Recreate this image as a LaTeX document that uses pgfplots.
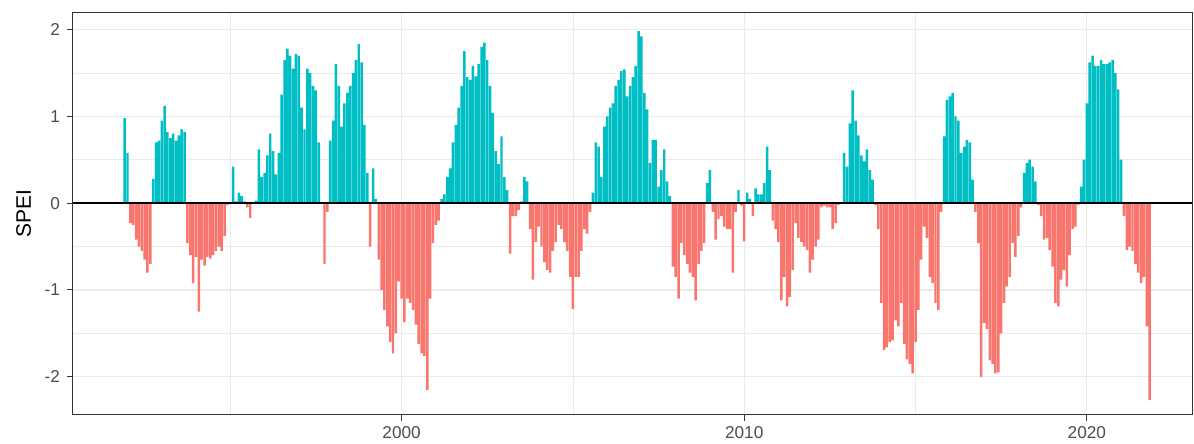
\documentclass[border=0pt]{standalone}
\usepackage{fontspec}
\setmainfont{Liberation Sans}
\usepackage{pgfplots}
\usepackage{pgfplotstable}
\pgfplotsset{compat=1.18}
\definecolor{posc}{HTML}{00BFC4}
\definecolor{negc}{HTML}{F8766D}
\definecolor{gridc}{HTML}{EBEBEB}
\definecolor{framec}{HTML}{333333}
\definecolor{tickc}{HTML}{4D4D4D}
\pgfplotstableread{
t v
0 0.98
1 0.58
2 -0.23
3 -0.25
4 -0.42
5 -0.5
6 -0.55
7 -0.65
8 -0.8
9 -0.7
10 0.28
11 0.7
12 0.72
13 0.95
14 1.12
15 0.82
16 0.75
17 0.8
18 0.72
19 0.78
20 0.85
21 0.82
22 -0.46
23 -0.6
24 -0.92
25 -0.62
26 -1.25
27 -0.65
28 -0.72
29 -0.62
30 -0.64
31 -0.6
32 -0.55
33 -0.5
34 -0.55
35 -0.38
36 -0.02
37 0.01
38 0.42
39 0.02
40 0.12
41 0.08
42 0.02
43 -0.05
44 -0.17
45 0.0
46 0.03
47 0.62
48 0.3
49 0.35
50 0.55
51 0.8
52 0.6
53 0.33
54 0.58
55 1.25
56 1.65
57 1.78
58 1.7
59 1.55
60 1.72
61 1.7
62 1.1
63 0.85
64 1.55
65 1.5
66 1.35
67 1.3
68 0.7
69 0.0
70 -0.7
71 -0.1
72 0.72
73 0.95
74 1.6
75 1.35
76 0.88
77 1.15
78 1.27
79 1.35
80 1.5
81 1.65
82 1.83
83 1.62
84 0.9
85 0.35
86 -0.5
87 0.4
88 0.05
89 -0.65
90 -1.0
91 -1.23
92 -1.42
93 -1.6
94 -1.73
95 -1.5
96 -0.9
97 -1.1
98 -1.37
99 -1.1
100 -1.15
101 -1.23
102 -1.4
103 -1.62
104 -1.73
105 -1.76
106 -2.15
107 -1.1
108 -0.46
109 -0.25
110 -0.2
111 0.05
112 0.1
113 0.3
114 0.4
115 0.7
116 0.9
117 1.1
118 1.35
119 1.75
120 1.45
121 1.42
122 1.58
123 1.46
124 1.6
125 1.8
126 1.85
127 1.65
128 1.35
129 1.04
130 0.6
131 0.45
132 0.77
133 0.3
134 0.15
135 -0.58
136 -0.15
137 -0.15
138 -0.08
139 0.02
140 0.3
141 0.25
142 -0.3
143 -0.88
144 -0.45
145 -0.27
146 -0.5
147 -0.68
148 -0.77
149 -0.8
150 -0.55
151 -0.45
152 -0.25
153 -0.3
154 -0.45
155 -0.55
156 -0.85
157 -1.22
158 -0.85
159 -0.85
160 -0.55
161 -0.3
162 -0.35
163 -0.1
164 0.12
165 0.7
166 0.65
167 0.3
168 0.88
169 1.0
170 1.1
171 1.15
172 1.35
173 1.42
174 1.52
175 1.54
176 1.23
177 1.35
178 1.45
179 1.58
180 1.98
181 1.92
182 1.27
183 1.08
184 0.46
185 0.73
186 0.73
187 0.19
188 0.38
189 0.62
190 0.25
191 0.08
192 -0.73
193 -0.85
194 -1.1
195 -0.46
196 -0.6
197 -0.7
198 -0.8
199 -0.85
200 -1.12
201 -0.7
202 -0.55
203 -0.46
204 0.23
205 0.38
206 -0.1
207 -0.42
208 -0.18
209 -0.15
210 -0.27
211 -0.3
212 -0.3
213 -0.8
214 -0.1
215 0.15
216 -0.03
217 -0.44
218 0.12
219 0.05
220 -0.15
221 0.17
222 0.1
223 0.1
224 0.23
225 0.65
226 0.38
227 -0.2
228 -0.3
229 -0.45
230 -1.12
231 -0.85
232 -1.19
233 -1.08
234 -0.77
235 -0.23
236 -0.4
237 -0.45
238 -0.5
239 -0.54
240 -0.8
241 -0.65
242 -0.5
243 -0.42
244 -0.05
245 -0.03
246 -0.05
247 -0.05
248 -0.3
249 -0.23
250 -0.02
251 0.01
252 0.58
253 0.42
254 0.92
255 1.3
256 0.95
257 0.78
258 0.55
259 0.48
260 0.62
261 0.38
262 0.27
263 -0.02
264 -0.3
265 -1.15
266 -1.69
267 -1.66
268 -1.6
269 -1.58
270 -1.35
271 -1.42
272 -1.15
273 -1.62
274 -1.8
275 -1.85
276 -1.96
277 -1.6
278 -1.23
279 -0.65
280 -0.27
281 -0.4
282 -0.85
283 -0.92
284 -1.15
285 -1.23
286 -0.1
287 0.77
288 1.19
289 1.23
290 1.27
291 1.0
292 0.95
293 0.58
294 0.65
295 0.73
296 0.7
297 0.27
298 -0.1
299 -0.46
300 -2.0
301 -1.38
302 -1.45
303 -1.81
304 -1.85
305 -1.96
306 -1.95
307 -1.5
308 -1.15
309 -0.96
310 -0.85
311 -0.46
312 -0.62
313 -0.38
314 -0.05
315 0.35
316 0.46
317 0.5
318 0.42
319 0.25
320 -0.02
321 -0.15
322 -0.42
323 -0.4
324 -0.54
325 -0.73
326 -1.15
327 -1.19
328 -0.88
329 -0.77
330 -0.96
331 -0.6
332 -0.3
333 -0.27
334 -0.02
335 0.19
336 0.5
337 1.15
338 1.62
339 1.7
340 1.58
341 1.58
342 1.65
343 1.6
344 1.6
345 1.62
346 1.65
347 1.5
348 1.31
349 0.5
350 -0.15
351 -0.54
352 -0.5
353 -0.55
354 -0.7
355 -0.8
356 -0.92
357 -0.85
358 -1.42
359 -2.27
}\speidata
\begin{document}
\begin{tikzpicture}
\begin{axis}[
  scale only axis, width=559.5pt, height=201pt,
  xmin=1990.41, xmax=2023.07, ymin=-2.44, ymax=2.19,
  xtick={2000,2010,2020}, minor xtick={1995,2005,2015},
  ytick={-2,-1,0,1,2}, minor ytick={-1.5,-0.5,0.5,1.5},
  grid=both,
  major grid style={gridc, line width=0.55pt},
  minor grid style={gridc, line width=0.3pt},
  axis line style={framec, line width=0.5pt},
  tick style={framec, line width=0.5pt},
  major tick length=3pt, minor tick length=0pt,
  tick align=outside, xtick pos=bottom, ytick pos=left,
  tick label style={font=\fontsize{8.6}{10}\selectfont, color=tickc},
  /pgf/number format/assume math mode=true,
  /pgf/number format/1000 sep={},
  xticklabel style={yshift=1pt},
  ylabel={SPEI},
  ylabel style={at={(axis description cs:-0.044,0.5)}, anchor=center, font=\fontsize{10.5}{12}\selectfont},
  clip=true,
]
\addplot[ybar, bar width=0.072, bar shift=0pt, fill=posc, draw=none, restrict y to domain=0:5]
  table[x expr=1991.917+\thisrow{t}/12, y=v] {\speidata};
\addplot[ybar, bar width=0.072, bar shift=0pt, fill=negc, draw=none, restrict y to domain=-5:0]
  table[x expr=1991.917+\thisrow{t}/12, y=v] {\speidata};
\draw[black, line width=0.85pt] (axis cs:1990.41,0) -- (axis cs:2023.07,0);
\end{axis}
\pgfresetboundingbox
\path ([shift={(-36.5pt,6.5pt)}]current axis.north west) rectangle ([shift={(1pt,-14.5pt)}]current axis.south east);
\end{tikzpicture}
\end{document}
